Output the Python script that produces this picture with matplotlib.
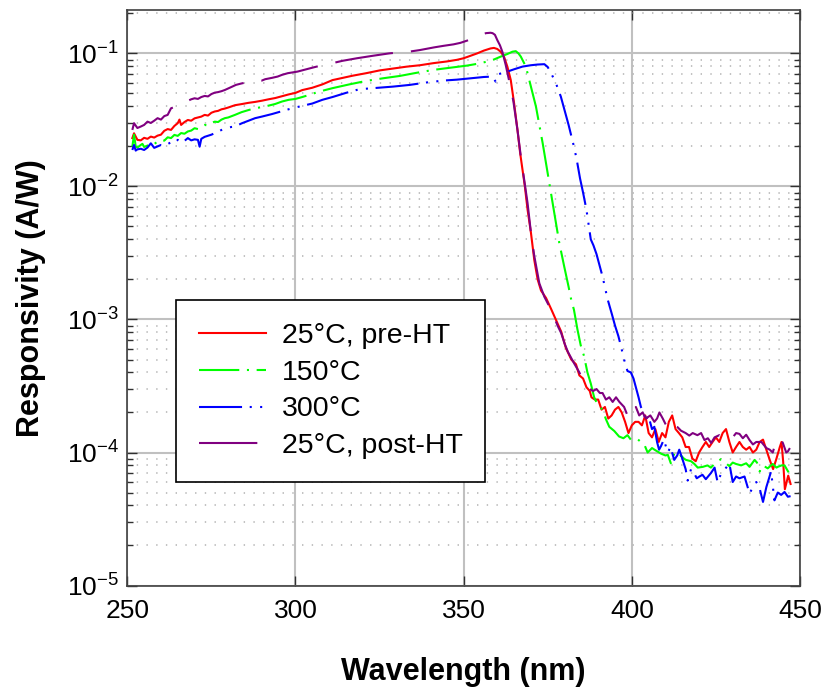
import numpy as np
import matplotlib
matplotlib.use("Agg")
import matplotlib.pyplot as plt
from matplotlib.ticker import LogLocator, NullFormatter

plt.rcParams['font.family'] = 'Liberation Sans'
plt.rcParams['mathtext.fontset'] = 'custom'
plt.rcParams['mathtext.rm'] = 'Liberation Sans'
plt.rcParams['mathtext.it'] = 'Liberation Sans:italic'
plt.rcParams['mathtext.bf'] = 'Liberation Sans:bold'
plt.rcParams['lines.scale_dashes'] = False

# ---- spectral responsivity (A/W) vs wavelength (nm) ----
wl_pre = [251.5, 252, 253, 254, 255, 256, 257, 258, 259, 260, 261, 262, 263, 264, 265, 265.5,
          266, 267, 268, 269, 270, 271, 272, 273, 274, 275, 276, 277, 278, 279, 280, 282, 284,
          286, 288, 290, 292, 294, 296, 298, 300, 302, 305, 308, 311, 314, 317, 321, 325, 329,
          333, 337, 341, 345, 348, 350, 352, 354, 356, 358, 359, 360, 361, 362, 363, 364, 365,
          366, 366.8, 367.5, 368.2, 369, 370, 371, 372, 373, 374.5, 376, 377.4, 379, 380.4,
          382, 383.4, 384.4, 385.5, 386.5, 387.5, 388, 389, 390, 391, 392, 393, 394, 395, 396,
          397, 398, 399, 400, 401, 402, 403, 404, 405, 406, 407, 408, 409, 410, 411, 412, 413,
          414, 415, 416, 417, 418, 419, 420, 421, 422, 423, 424, 425, 426, 427, 428, 429, 430,
          431, 432, 433, 434, 435, 436, 437, 438, 439, 440, 441, 442, 443, 444, 444.5, 445,
          445.5, 446.5, 447.2]
r_pre = [0.0231, 0.0251, 0.0224, 0.0222, 0.0232, 0.0228, 0.0237, 0.0233, 0.0241, 0.0245, 0.0262,
         0.0270, 0.0266, 0.0285, 0.0299, 0.0318, 0.0290, 0.0305, 0.0316, 0.0312, 0.0325, 0.0330,
         0.0335, 0.0345, 0.0341, 0.0358, 0.0366, 0.0370, 0.0380, 0.0385, 0.0392, 0.0408, 0.0416,
         0.0425, 0.0432, 0.0441, 0.0452, 0.0462, 0.0477, 0.0492, 0.0505, 0.0530, 0.0552, 0.0585,
         0.0630, 0.0655, 0.0680, 0.0710, 0.0745, 0.0770, 0.0795, 0.0815, 0.0845, 0.0870, 0.0895,
         0.0920, 0.0960, 0.1000, 0.1050, 0.1090, 0.1100, 0.1080, 0.1030, 0.0945, 0.0795, 0.0632,
         0.0422, 0.0266, 0.0178, 0.0133, 0.0100, 0.0067, 0.0045, 0.0028, 0.0020, 0.00165, 0.00145,
         0.00120, 0.00100, 0.00081, 0.00061, 0.00050, 0.00046, 0.00038, 0.00036, 0.00031, 0.00029,
         0.00026, 0.00025, 0.00025, 0.00021, 0.00022, 0.00018, 0.00019, 0.00021, 0.00022, 0.00020,
         0.00017, 0.00014, 0.00016, 0.00017, 0.00017, 0.00016, 0.00019, 0.00014, 0.00013, 0.00015,
         0.00012, 0.00014, 0.00013, 0.00017, 0.00019, 0.00015, 0.00014, 0.00013, 0.00011, 0.00011,
         0.00009, 0.000086, 0.00010, 0.00011, 0.00012, 0.00011, 0.00012, 0.00013, 0.00012, 0.00014,
         0.00015, 0.00012, 0.00010, 0.00011, 0.00012, 0.00011, 0.000105, 0.00011, 0.00010,
         0.000105, 0.00012, 0.000125, 0.000105, 0.000088, 0.000075, 0.00009, 0.00011, 0.00012,
         0.000085, 0.000053, 0.000067, 0.000058]

wl_150 = [251.5, 252, 252.5, 253, 254, 254.5, 255, 256, 257, 258, 259, 260, 261, 262, 263, 264,
          265, 266, 267, 268, 269, 270, 271, 272, 273, 274, 275, 276, 277, 278, 279, 280, 282, 284,
          286, 288, 290, 292, 294, 296, 298, 300, 302, 304, 307, 311, 316, 321, 326, 331, 336,
          341, 346, 351, 354, 357, 359, 361, 363, 364.5, 365.5, 366.3, 367, 368.5, 370, 371.5,
          372.5, 373.5, 374.5, 375.5, 376.5, 377.5, 378.4, 379.9, 381.2, 382, 382.8, 383.8, 384.8,
          385.8, 386.8, 387.8, 388.8, 389.8, 390.5, 391.3, 392.3, 393.3, 394.8, 396.2, 397.5,
          398.7, 399.7, 400.7, 401.7, 402.7, 403.7, 404.7, 406, 407, 408.7, 410, 410.7, 411.6,
          412.6, 413.6, 414.6, 415.5, 416.1, 417.6, 418.6, 419.6, 421.1, 422.5, 423.5, 424.6,
          425.5, 426.5, 427.5, 429, 430, 431, 432.5, 434, 435, 436.5, 437.2, 438, 439, 440.4,
          441.9, 443, 443.4, 444.5, 445.4, 446.6]
r_150 = [0.0199, 0.0245, 0.0200, 0.0196, 0.0205, 0.0209, 0.0198, 0.0203, 0.0212, 0.0208, 0.0218,
         0.0224, 0.0221, 0.0234, 0.0231, 0.0244, 0.0240, 0.0252, 0.0249, 0.0259, 0.0263, 0.0274,
         0.0270, 0.0283, 0.0290, 0.0287, 0.0300, 0.0307, 0.0305, 0.0318, 0.0326, 0.0330, 0.0345,
         0.0362, 0.0375, 0.0387, 0.0395, 0.0405, 0.0417, 0.0435, 0.0448, 0.0455, 0.0470, 0.0487,
         0.0516, 0.0548, 0.0585, 0.0621, 0.0650, 0.0677, 0.0715, 0.0752, 0.0780, 0.0810, 0.0835,
         0.0868, 0.0900, 0.0946, 0.0990, 0.1030, 0.1040, 0.1000, 0.0946, 0.0796, 0.0563, 0.0398,
         0.0290, 0.0211, 0.0149, 0.0105, 0.0075, 0.0052, 0.0038, 0.00250, 0.00176, 0.00140,
         0.00118, 0.00085, 0.00064, 0.00053, 0.00040, 0.00033, 0.00026, 0.00023, 0.00022, 0.00021,
         0.000178, 0.000156, 0.000145, 0.000132, 0.000128, 0.000135, 0.000125, 0.000124, 0.000126,
         0.000120, 0.000115, 0.000100, 0.000108, 0.000104, 0.000098, 0.000095, 0.000096, 0.000083,
         0.000098, 0.000092, 0.000095, 0.000090, 0.000088, 0.000086, 0.000082, 0.000077, 0.000078,
         0.000080, 0.000077, 0.000082, 0.000086, 0.000089, 0.000085, 0.000079, 0.000084, 0.000082,
         0.000080, 0.000083, 0.000078, 0.000088, 0.000084, 0.000072, 0.000080, 0.000076, 0.000082,
         0.000077, 0.000078, 0.000080, 0.000080, 0.000071]

wl_300 = [251.5, 252, 252.5, 253, 254, 255, 256, 257, 258, 259, 260, 261, 262, 263, 264, 265, 266,
          267, 268, 269, 270, 271, 271.5, 272, 273, 275, 277, 279, 281, 282, 284, 286, 288, 290,
          293, 296, 299, 302, 305, 308, 311, 315, 319, 324, 329, 334, 339, 344, 348, 352, 356,
          358.6, 359.5, 360.5, 363, 365, 367.5, 370, 372, 374, 375, 376, 377.4, 378.9, 380.1,
          381.2, 382.2, 382.8, 383.6, 384.6, 385.5, 386.5, 387.8, 388.6, 389.5, 390.5, 391.3,
          392.8, 394.1, 395, 396, 396.7, 397.7, 398.7, 399.7, 400.5, 401.2, 402, 402.7, 403.5,
          404.2, 404.7, 405.2, 406, 406.7, 407.5, 408.1, 408.7, 409.5, 410.7, 411.5, 412.6, 413.5,
          414.1, 415, 416, 416.6, 417.6, 418.5, 419.3, 420.1, 421, 422, 423.5, 424.6, 425.5,
          426.5, 427.5, 429, 430, 431, 432, 433.5, 435, 436, 437, 438, 439, 440, 441.4, 442.4,
          443.4, 444.4, 445.4, 446.4, 447.2]
r_300 = [0.0188, 0.0205, 0.0186, 0.0190, 0.0192, 0.0188, 0.0196, 0.0211, 0.0195, 0.0200, 0.0205,
         0.0203, 0.0208, 0.0215, 0.0210, 0.0224, 0.0214, 0.0220, 0.0231, 0.0222, 0.0226, 0.0224,
         0.0199, 0.0228, 0.0236, 0.0245, 0.0258, 0.0274, 0.0280, 0.0282, 0.0298, 0.0312, 0.0326,
         0.0335, 0.0350, 0.0368, 0.0387, 0.0403, 0.0420, 0.0448, 0.0470, 0.0505, 0.0538, 0.0550,
         0.0563, 0.0580, 0.0605, 0.0625, 0.0635, 0.0650, 0.0665, 0.0670, 0.0614, 0.0700, 0.0730,
         0.0760, 0.0796, 0.0815, 0.0825, 0.0830, 0.0790, 0.0710, 0.0600, 0.0473, 0.0366, 0.0290,
         0.0230, 0.0199, 0.0160, 0.0115, 0.0090, 0.0067, 0.0040, 0.0036, 0.0031, 0.0025, 0.0021,
         0.00142, 0.00109, 0.00090, 0.00075, 0.00064, 0.00050, 0.00041, 0.00040, 0.00036, 0.00031,
         0.00026, 0.00022, 0.00020, 0.00017, 0.00019, 0.000178, 0.00015, 0.000156, 0.00012,
         0.000105, 0.000112, 0.000125, 0.000100, 0.000110, 0.000088, 0.000095, 0.000105, 0.000090,
         0.000075, 0.0000615, 0.0000749, 0.000070, 0.000064, 0.000066, 0.000068, 0.000063,
         0.000070, 0.000077, 0.0000598, 0.000069, 0.000074, 0.0000826, 0.000060, 0.000066,
         0.000064, 0.000066, 0.0000492, 0.000055, 0.000060, 0.0000537, 0.0000425, 0.000055,
         0.000072, 0.0000437, 0.000050, 0.000048, 0.0000505, 0.0000465, 0.000047]

wl_post = [251.5, 252, 253, 254, 255, 256, 257, 258, 259, 260, 261, 262, 263, 264, 265, 266, 267,
           268, 269, 270, 271, 272, 273, 274, 275, 276, 277, 278, 279, 280, 281, 282.3, 284, 286,
           288.2, 290, 291, 293, 294.7, 296, 297.7, 300.6, 303, 305.6, 308, 310.9, 314, 318.3,
           323, 327.8, 331, 333.7, 337, 341.2, 344, 347, 349, 351.1, 353, 355, 356.6, 358, 358.6,
           359.3, 360, 360.8, 361.5, 362.5, 363.5, 364.2, 364.8, 366, 367, 368, 369, 370, 371,
           372.5, 374, 376, 378, 379, 380, 381, 382.8, 384.4, 385, 386.3, 387.5, 388.5, 389.5,
           390.5, 391.3, 392.3, 393.3, 394.3, 395.3, 396.3, 397.7, 398.7, 399.7, 400.7, 401.2,
           402.2, 403.2, 404.2, 405.5, 406.7, 407.5, 408.2, 409.2, 410.2, 411.1, 412.1, 413.6,
           414.6, 416, 417.1, 418.1, 419.5, 420.6, 421.6, 422.6, 423.6, 424.6, 426, 427, 428.5,
           430, 431, 432, 433, 434, 435, 436, 437, 438.5, 440, 441, 441.9, 442.9, 443.9, 444.9,
           445.9, 446.4, 447]
r_post = [0.0266, 0.0299, 0.0275, 0.0282, 0.0290, 0.0307, 0.0300, 0.0312, 0.0326, 0.0318, 0.0338,
          0.0345, 0.0387, 0.0395, 0.0405, 0.0420, 0.0434, 0.0440, 0.0452, 0.0460, 0.0455, 0.0470,
          0.0479, 0.0475, 0.0495, 0.0507, 0.0512, 0.0520, 0.0531, 0.0545, 0.0560, 0.0580, 0.0595,
          0.0610, 0.0632, 0.0625, 0.0640, 0.0655, 0.0670, 0.0690, 0.0710, 0.0730, 0.0758, 0.0788,
          0.0815, 0.0844, 0.0880, 0.0920, 0.0960, 0.1000, 0.1020, 0.1030, 0.1060, 0.1110, 0.1140,
          0.1170, 0.1200, 0.1250, 0.1300, 0.1360, 0.1420, 0.1430, 0.1420, 0.1380, 0.1260, 0.1150,
          0.1030, 0.0820, 0.0630, 0.0520, 0.0434, 0.0266, 0.0168, 0.0112, 0.0075, 0.0045, 0.0030,
          0.00187, 0.00148, 0.00118, 0.00089, 0.00079, 0.00066, 0.00057, 0.00047, 0.00040, 0.00037,
          0.00032, 0.00030, 0.00029, 0.00030, 0.00028, 0.00028, 0.00025, 0.00026, 0.00024, 0.00026,
          0.00024, 0.00022, 0.00019, 0.00021, 0.00020, 0.00022, 0.00019, 0.00020, 0.00018, 0.00019,
          0.00017, 0.00018, 0.00020, 0.00018, 0.00016, 0.000146, 0.00016, 0.000155, 0.000146,
          0.00014, 0.000134, 0.00014, 0.000135, 0.00014, 0.000124, 0.000128, 0.000118, 0.00013,
          0.000135, 0.000124, 0.000124, 0.00013, 0.00014, 0.000138, 0.000128, 0.000136, 0.000124,
          0.000115, 0.00012, 0.00012, 0.000108, 0.000105, 0.0001, 0.000122, 0.00013, 0.000118,
          0.0001, 0.000102, 0.000108]

labels = ["25°C, pre-HT", "150°C", "300°C", "25°C, post-HT"]

# ================= PLOT =================
fig = plt.figure(figsize=(8.25, 6.9), dpi=100)
ax = fig.add_axes([0.1543, 0.1514, 0.8154, 0.8341])

ax.plot(wl_pre, r_pre, color='#ff0000', lw=1.5, label=labels[0])
ax.plot(wl_150, r_150, color='#00ff00', lw=1.5, linestyle=(0, (29, 5.5, 1.5, 5.5)), label=labels[1])
ax.plot(wl_300, r_300, color='#0000ff', lw=1.5, linestyle=(0, (31, 5.5, 1.5, 6, 1.5, 5.5)), label=labels[2])
ax.plot(wl_post, r_post, color='#800080', lw=1.5, linestyle=(0, (42, 13)), label=labels[3])

ax.set_yscale('log')
ax.set_xlim(250, 450)
ax.set_ylim(1e-5, 0.212)
ax.set_xticks([250, 300, 350, 400, 450])
ax.yaxis.set_major_locator(LogLocator(base=10, numticks=10))
ax.yaxis.set_minor_locator(LogLocator(base=10, subs=np.arange(2, 10), numticks=20))
ax.yaxis.set_minor_formatter(NullFormatter())

# grid: solid major, dotted minor (y only)
ax.grid(True, which='major', color='#c0c0c0', lw=1.5, ls='-')
ax.grid(True, which='minor', axis='y', color='#b8b8b8', lw=1.2, ls=(0, (1, 6)))
ax.set_axisbelow(True)

ax.tick_params(which='both', direction='in', top=True, right=True, colors='#303030')
ax.tick_params(which='major', length=7, width=1)
ax.tick_params(which='minor', length=4.5, width=1)
ax.tick_params(axis='x', labelsize=19, pad=10, labelcolor='black')
ax.tick_params(axis='y', labelsize=19, pad=6, labelcolor='black')
for s in ax.spines.values():
    s.set_color('#404040')
    s.set_linewidth(1.2)

ax.set_xlabel("Wavelength (nm)", fontsize=22, fontweight='bold', labelpad=24)
ax.set_ylabel("Responsivity (A/W)", fontsize=22, fontweight='bold', labelpad=15)

leg = ax.legend(loc='upper left', bbox_to_anchor=(0.0724, 0.496), borderaxespad=0,
                fontsize=20.5, frameon=True, fancybox=False, edgecolor='black',
                framealpha=1, handlelength=2.35, handletextpad=0.56, labelspacing=0.38,
                borderpad=0.8)
leg.get_frame().set_linewidth(1.2)

fig.savefig("out.png", dpi=100)
